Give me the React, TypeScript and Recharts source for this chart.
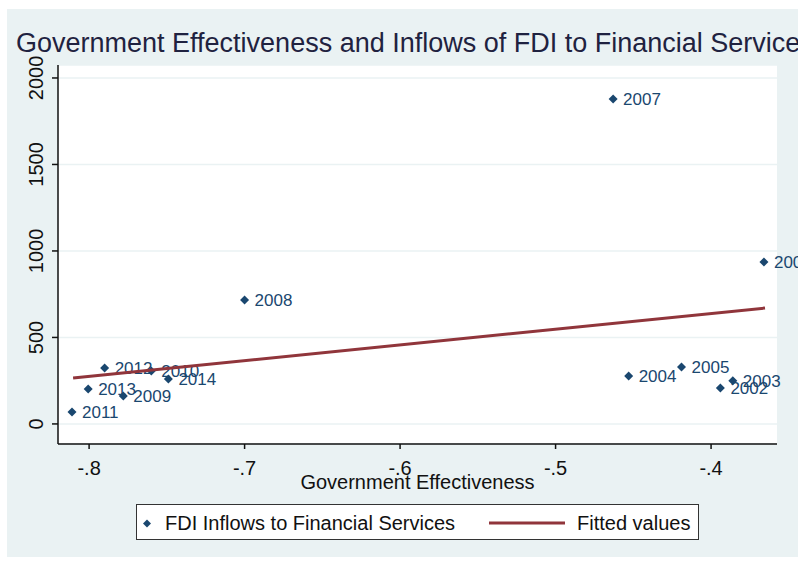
import React from 'react';
import { CartesianGrid, Scatter, ScatterChart, XAxis, YAxis } from 'recharts';

// Values
const years = [2002, 2003, 2004, 2005, 2006, 2007, 2008, 2009, 2010, 2011, 2012, 2013, 2014];
const effectiveness = [-0.394, -0.386, -0.453, -0.419, -0.366, -0.463, -0.7, -0.778, -0.76, -0.811, -0.79, -0.8006, -0.749];
const fdiInflows = [208, 249, 277, 329, 936, 1879, 717, 162, 306, 69, 324, 202, 260];

const fittedX = [-0.8103, -0.3653];
const fittedY = [266, 670];

const xTicks = [-0.8, -0.7, -0.6, -0.5, -0.4];
const yTicks = [0, 500, 1000, 1500, 2000];

const NAVY = '#1a476f';
const MAROON = '#90353b';
const BG = '#eaf2f3';
const FONT = '"Liberation Sans", Arial, sans-serif';

const points = years.map((year, i) => ({ year, x: effectiveness[i], y: fdiInflows[i] }));
const fitted = fittedX.map((x, i) => ({ x, y: fittedY[i] }));

const formatX = (v: number) => v.toFixed(1).replace('0.', '.');

function Diamond(props: any) {
  const { cx, cy, payload } = props;
  const r = 4.5;
  return (
    <g>
      <path d={`M${cx},${cy - r}L${cx + r},${cy}L${cx},${cy + r}L${cx - r},${cy}Z`} fill={NAVY} />
      <text x={cx + 10} y={cy + 6} fontSize={17} fill={NAVY}>
        {payload.year}
      </text>
    </g>
  );
}

function YTick(props: any) {
  const { x, y, payload } = props;
  const bx = x - 7;
  return (
    <text x={bx} y={y} transform={`rotate(-90 ${bx} ${y})`} textAnchor="middle" fontSize={20} fill="#111">
      {payload.value}
    </text>
  );
}

export default function App() {
  return (
    <div style={{ position: 'absolute', left: 0, top: 0, width: 798, height: 561, overflow: 'hidden', background: '#fff', fontFamily: FONT }}>
      <div style={{ position: 'absolute', left: 7, top: 9, width: 791, height: 548, background: BG }} />
      <div
        style={{
          position: 'absolute',
          left: 16,
          top: 30,
          fontSize: 27,
          lineHeight: '27px',
          whiteSpace: 'nowrap',
          color: '#1f2240',
        }}
      >
        Government Effectiveness and Inflows of FDI to Financial Services
      </div>

      <ScatterChart
        width={798}
        height={561}
        margin={{ top: 65, right: 21, left: 30, bottom: 67 }}
        style={{ position: 'absolute', left: 0, top: 0 }}
      >
        <CartesianGrid fill="#fff" vertical={false} stroke={BG} strokeWidth={1.5} />
        <XAxis
          type="number"
          dataKey="x"
          domain={[-0.82, -0.3576]}
          ticks={xTicks}
          tickFormatter={formatX}
          height={50}
          tickSize={5}
          tickMargin={12}
          axisLine={{ stroke: '#111', strokeWidth: 1.5 }}
          tickLine={{ stroke: '#111', strokeWidth: 1.5 }}
          tick={{ fill: '#111', fontSize: 20 }}
          label={{ value: 'Government Effectiveness', position: 'insideBottom', offset: 5, fill: '#111', fontSize: 20 }}
        />
        <YAxis
          type="number"
          dataKey="y"
          domain={[-116, 2075]}
          ticks={yTicks}
          width={28}
          tickSize={6}
          axisLine={{ stroke: '#111', strokeWidth: 1.5 }}
          tickLine={{ stroke: '#111', strokeWidth: 1.5 }}
          tick={<YTick />}
        />
        <Scatter data={points} shape={<Diamond />} isAnimationActive={false} />
        <Scatter
          data={fitted}
          line={{ stroke: MAROON, strokeWidth: 3 }}
          shape={() => <g />}
          isAnimationActive={false}
        />
      </ScatterChart>

      <div
        style={{
          position: 'absolute',
          left: 136,
          top: 504,
          width: 563,
          height: 36,
          boxSizing: 'border-box',
          border: '1.5px solid #333',
          background: '#fff',
        }}
      >
        <svg width={560} height={33} style={{ position: 'absolute', left: 0, top: 0 }}>
          <path d="M10,14.5L14,18.5L10,22.5L6,18.5Z" fill={NAVY} />
          <line x1={352} x2={428} y1={18} y2={18} stroke={MAROON} strokeWidth={3} />
        </svg>
        <span style={{ position: 'absolute', left: 28, top: 8, fontSize: 20, lineHeight: '20px', whiteSpace: 'nowrap', color: '#111' }}>
          FDI Inflows to Financial Services
        </span>
        <span style={{ position: 'absolute', left: 440, top: 8, fontSize: 20, lineHeight: '20px', whiteSpace: 'nowrap', color: '#111' }}>
          Fitted values
        </span>
      </div>
    </div>
  );
}
